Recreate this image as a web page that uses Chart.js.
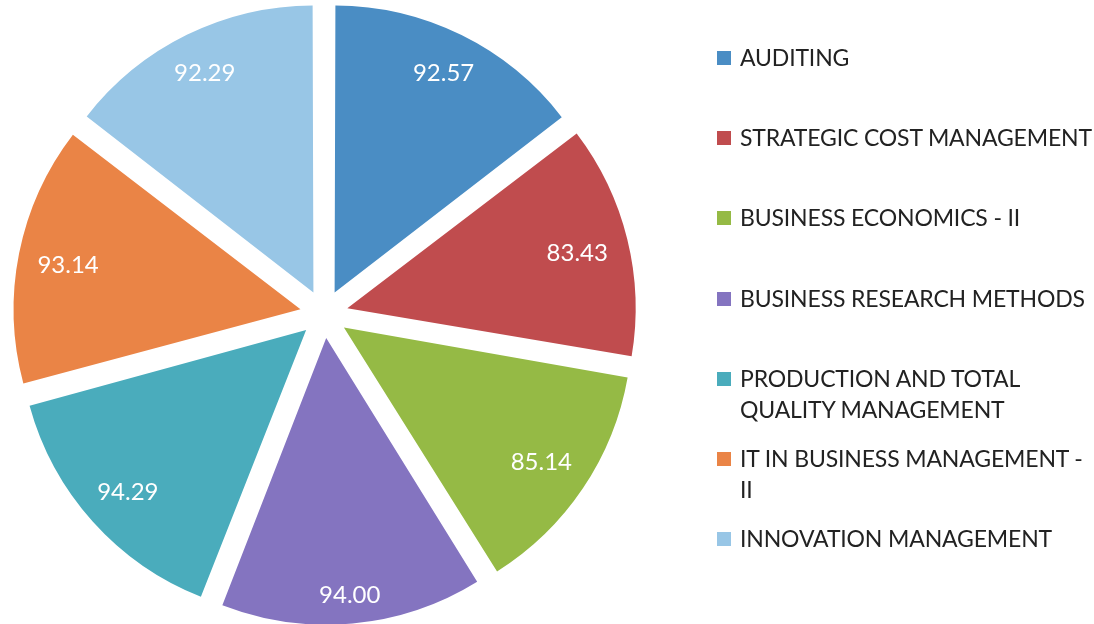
<!DOCTYPE html>
<html>
<head>
<meta charset="utf-8">
<script src="https://cdn.jsdelivr.net/npm/chart.js@4.4.1/dist/chart.umd.min.js"></script>
<style>
  html, body { margin: 0; padding: 0; background: #fff; }
  #wrap { position: relative; width: 1094px; height: 624px; overflow: hidden; }
  #legend { position: absolute; left: 717px; top: 0; font-family: Lato, "Open Sans", sans-serif; font-size: 23px; letter-spacing: -0.15px; color: #222; }
  .item { position: absolute; left: 0; white-space: nowrap; line-height: 31px; }
  .box { position: absolute; left: 0; top: 9px; width: 14px; height: 14px; }
  .txt { position: absolute; left: 23px; top: 0; }
</style>
</head>
<body>
<div id="wrap">
  <canvas id="myChart" width="1094" height="624"></canvas>
  <div id="legend"></div>
</div>
<script>
// datos del gráfico
const subjects = [
  'AUDITING',
  'STRATEGIC COST MANAGEMENT',
  'BUSINESS ECONOMICS - II',
  'BUSINESS RESEARCH METHODS',
  ['PRODUCTION AND TOTAL', 'QUALITY MANAGEMENT'],
  ['IT IN BUSINESS MANAGEMENT -', 'II'],
  'INNOVATION MANAGEMENT'
];
const scores = [92.57, 83.43, 85.14, 94.00, 94.29, 93.14, 92.29];
const sliceColors = ['#4a8dc4', '#c04c4e', '#95ba45', '#8474c0', '#4aacbc', '#ea8446', '#98c6e6'];

// etiquetas blancas dentro de cada porción (pegadas al borde, estilo "inside end")
const sliceLabels = {
  id: 'sliceLabels',
  afterDatasetsDraw(chart) {
    const ctx = chart.ctx;
    const meta = chart.getDatasetMeta(0);
    ctx.save();
    ctx.fillStyle = '#ffffff';
    ctx.font = '24px Lato, "Open Sans", sans-serif';
    ctx.textAlign = 'center';
    ctx.textBaseline = 'middle';
    meta.data.forEach((arc, i) => {
      const p = arc.getProps(['x', 'y', 'startAngle', 'endAngle', 'outerRadius']);
      const mid = (p.startAngle + p.endAngle) / 2;
      const txt = scores[i].toFixed(2);
      const w = ctx.measureText(txt).width;
      const ext = Math.abs(Math.cos(mid)) * w / 2 + Math.abs(Math.sin(mid)) * 10;
      // Chart.js desplaza la porción offset/4 píxeles
      const off = (arc.options.offset || 0) / 4;
      const r = off + p.outerRadius - 13 - ext;
      ctx.fillText(txt, p.x + Math.cos(mid) * r, p.y + Math.sin(mid) * r + 2);
    });
    ctx.restore();
  }
};

const ctx = document.getElementById('myChart').getContext('2d');
new Chart(ctx, {
  type: 'pie',
  data: {
    labels: subjects,
    datasets: [{
      data: scores,
      backgroundColor: sliceColors,
      borderWidth: 0,
      offset: 96
    }]
  },
  options: {
    responsive: false,
    animation: false,
    radius: 282,
    layout: { padding: { left: 26, right: 472, top: 16, bottom: 12 } },
    plugins: {
      legend: { display: false },
      tooltip: { enabled: false }
    }
  },
  plugins: [sliceLabels]
});

// leyenda en HTML
const legend = document.getElementById('legend');
subjects.forEach((name, i) => {
  const lines = Array.isArray(name) ? name : [name];
  const item = document.createElement('div');
  item.className = 'item';
  item.style.top = (42 + i * 80.2) + 'px';
  item.innerHTML = '<span class="box" style="background:' + sliceColors[i] + '"></span>' +
    '<span class="txt">' + lines.join('<br>') + '</span>';
  legend.appendChild(item);
});
</script>
</body>
</html>
